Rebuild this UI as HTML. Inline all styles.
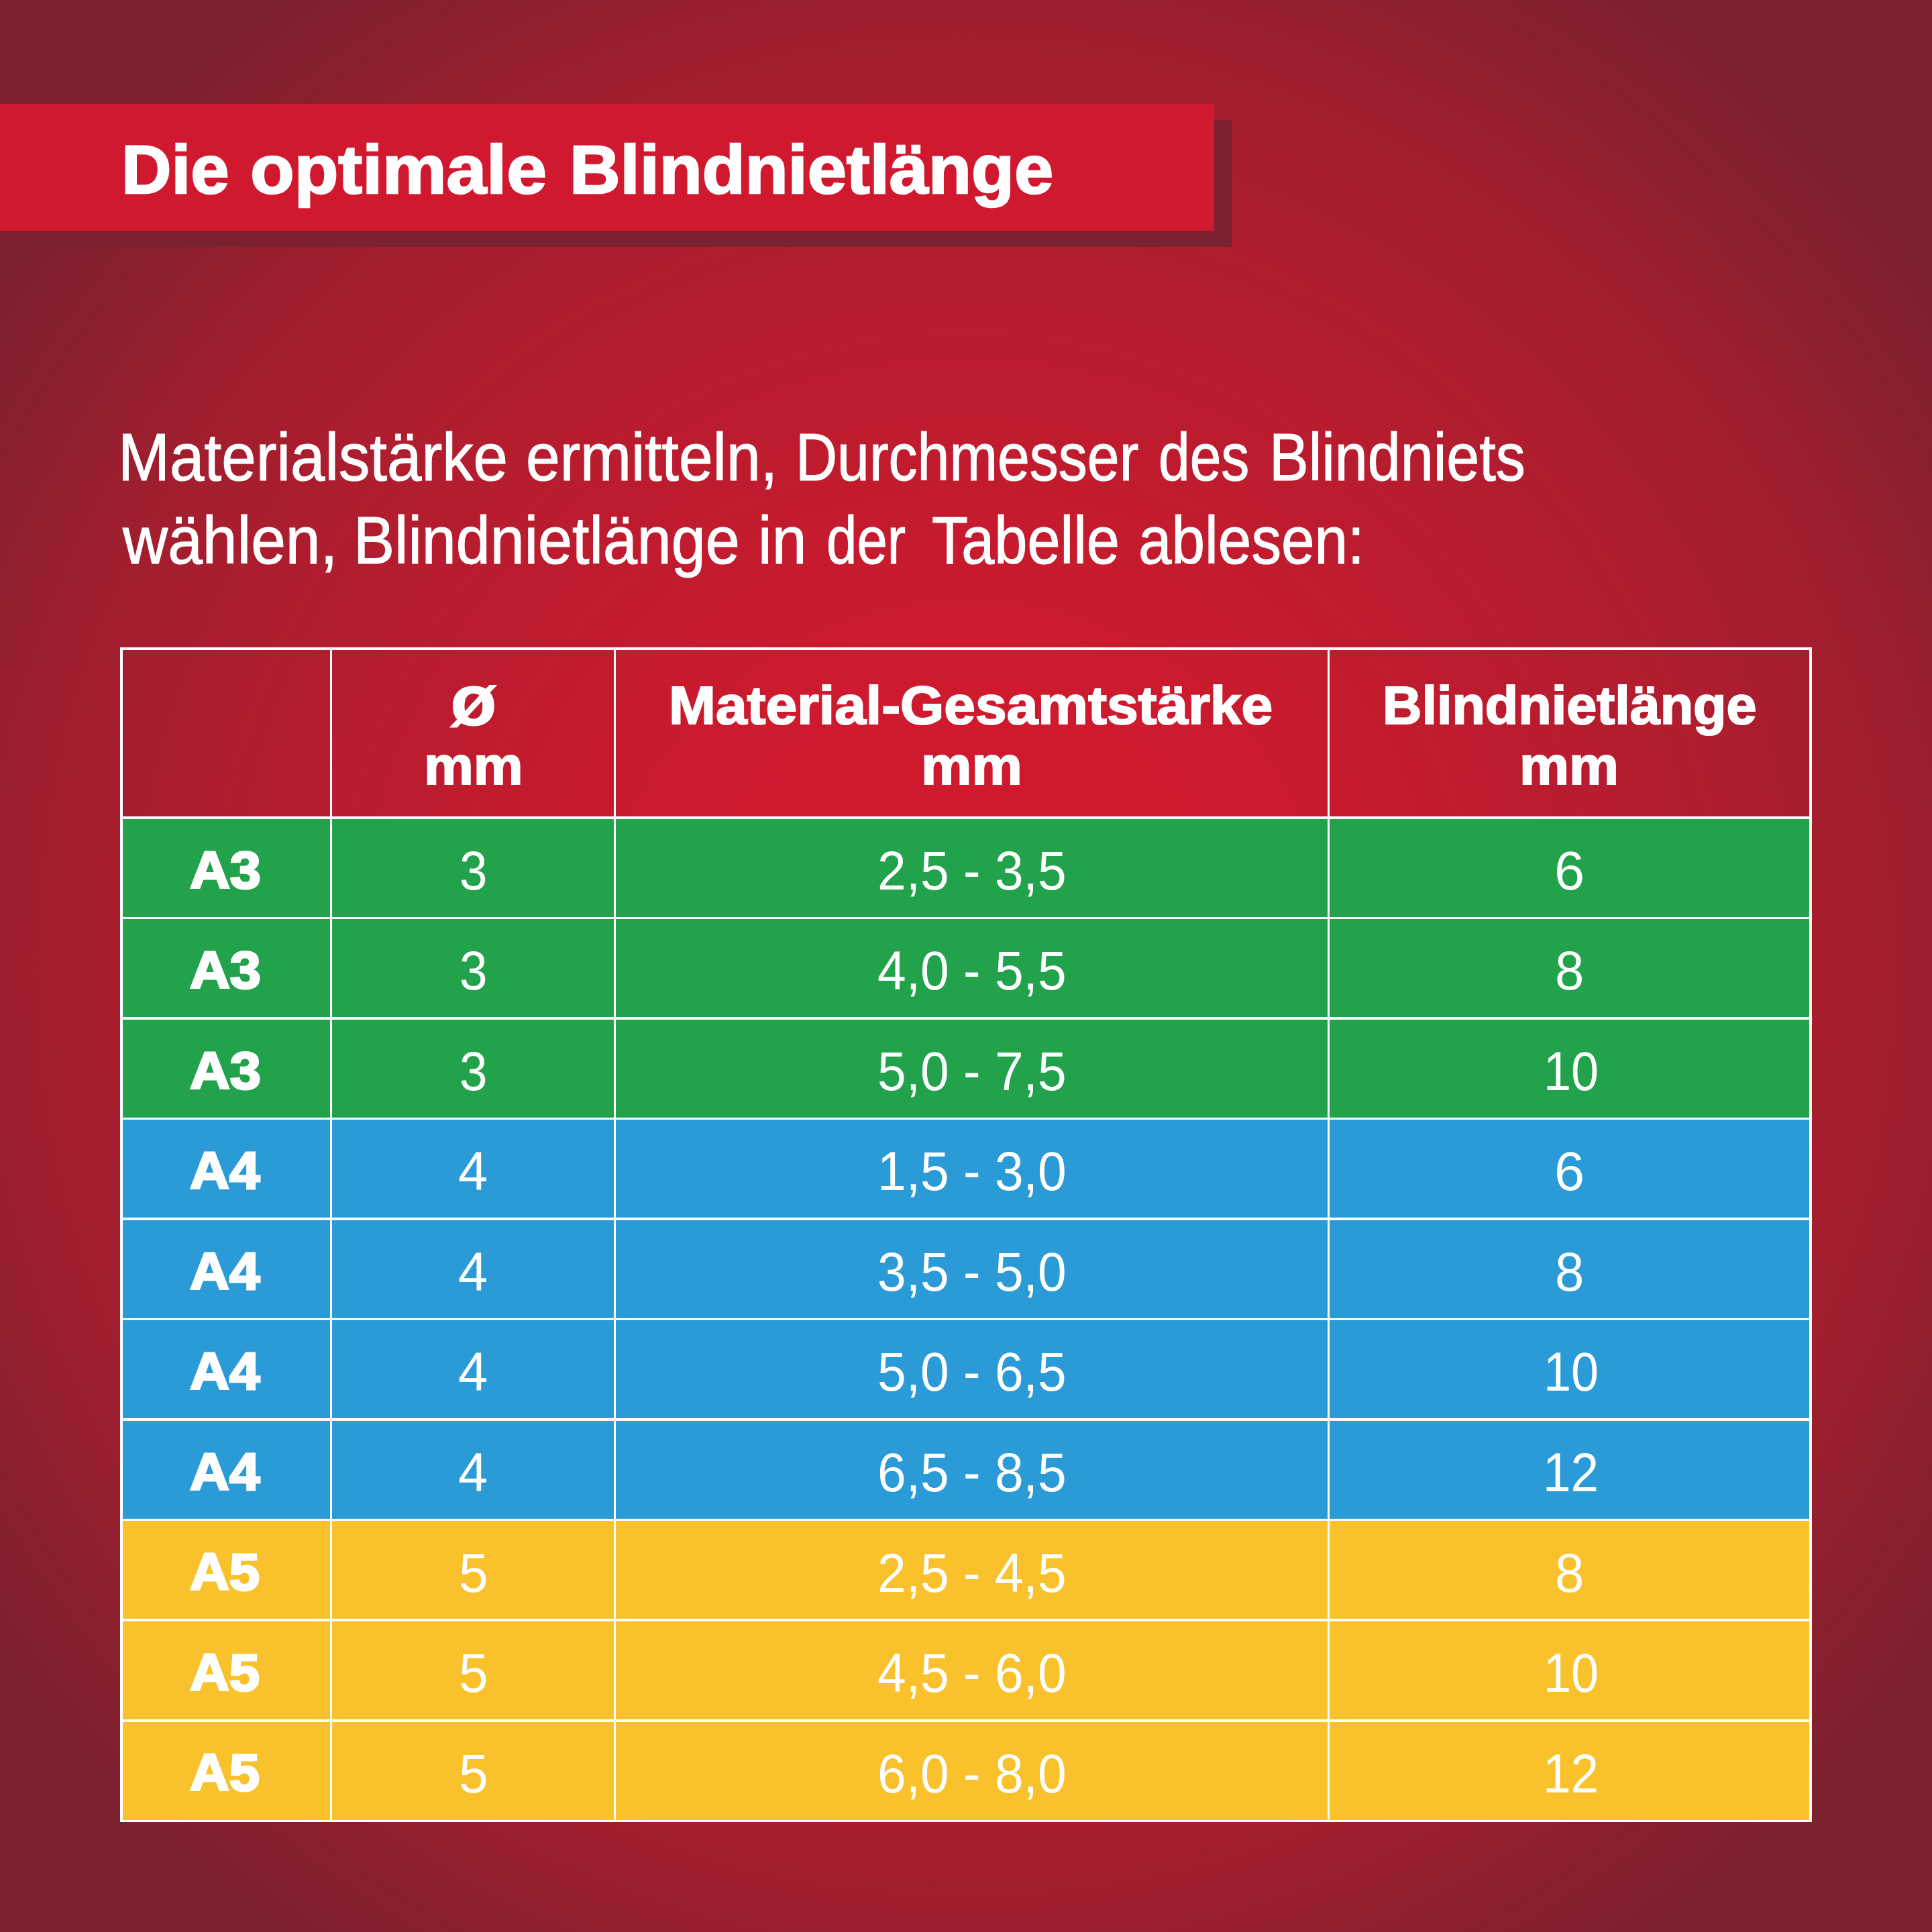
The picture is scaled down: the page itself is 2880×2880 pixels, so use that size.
<!DOCTYPE html>
<html lang="de"><head><meta charset="utf-8"><title>Die optimale Blindnietlänge</title>
<style>
html,body{margin:0;padding:0}
body{background:#7b2130}
#page{width:2880px;height:2880px;position:relative;overflow:hidden;font-family:"Liberation Sans",sans-serif;color:#fff;
background:radial-gradient(circle 2040px at 1440px 1440px, #d0192e 0px, #ce1a2e 450px, #c11b2e 754px, #b01d2f 1120px, #a21e2e 1365px, #961f2f 1500px, #89202f 1625px, #7f2130 1750px, #7b2130 1815px, #7b2130 2040px);}
.t{position:absolute;line-height:1;white-space:nowrap;transform-origin:0 0;color:#fff}
.b{font-weight:bold} .r{font-weight:normal}
h1,p{margin:0;font:inherit}
.box{position:absolute}
.ln{position:absolute;background:#fff}
</style></head><body><div id="page">

<div class="box" style="left:0;top:178.5px;width:1836px;height:189.5px;background:#7b2130"></div>
<div class="box" style="left:0;top:155px;width:1810.3px;height:189px;background:#d0192f"></div>
<div class="box" style="left:181px;top:1219.0px;width:2518px;height:150.0px;background:#21a24b"></div>
<div class="box" style="left:181px;top:1368.5px;width:2518px;height:150.0px;background:#21a24b"></div>
<div class="box" style="left:181px;top:1518.1px;width:2518px;height:150.0px;background:#21a24b"></div>
<div class="box" style="left:181px;top:1667.6px;width:2518px;height:150.0px;background:#2b9bd8"></div>
<div class="box" style="left:181px;top:1817.1px;width:2518px;height:150.0px;background:#2b9bd8"></div>
<div class="box" style="left:181px;top:1966.7px;width:2518px;height:150.0px;background:#2b9bd8"></div>
<div class="box" style="left:181px;top:2116.2px;width:2518px;height:150.0px;background:#2b9bd8"></div>
<div class="box" style="left:181px;top:2265.7px;width:2518px;height:150.0px;background:#f9c12b"></div>
<div class="box" style="left:181px;top:2415.2px;width:2518px;height:150.0px;background:#f9c12b"></div>
<div class="box" style="left:181px;top:2564.8px;width:2518px;height:150.0px;background:#f9c12b"></div>
<div class="ln" style="left:179.2px;top:965.2px;width:3.6px;height:1750.9px"></div>
<div class="ln" style="left:491.7px;top:965.2px;width:3.6px;height:1750.9px"></div>
<div class="ln" style="left:914.5px;top:965.2px;width:3.6px;height:1750.9px"></div>
<div class="ln" style="left:1978.5px;top:965.2px;width:3.6px;height:1750.9px"></div>
<div class="ln" style="left:2697.2px;top:965.2px;width:3.6px;height:1750.9px"></div>
<div class="ln" style="left:179.2px;top:965.2px;width:2521.6px;height:3.6px"></div>
<div class="ln" style="left:179.2px;top:1217.2px;width:2521.6px;height:3.6px"></div>
<div class="ln" style="left:179.2px;top:1366.7px;width:2521.6px;height:3.6px"></div>
<div class="ln" style="left:179.2px;top:1516.3px;width:2521.6px;height:3.6px"></div>
<div class="ln" style="left:179.2px;top:1665.8px;width:2521.6px;height:3.6px"></div>
<div class="ln" style="left:179.2px;top:1815.3px;width:2521.6px;height:3.6px"></div>
<div class="ln" style="left:179.2px;top:1964.9px;width:2521.6px;height:3.6px"></div>
<div class="ln" style="left:179.2px;top:2114.4px;width:2521.6px;height:3.6px"></div>
<div class="ln" style="left:179.2px;top:2263.9px;width:2521.6px;height:3.6px"></div>
<div class="ln" style="left:179.2px;top:2413.4px;width:2521.6px;height:3.6px"></div>
<div class="ln" style="left:179.2px;top:2563.0px;width:2521.6px;height:3.6px"></div>
<div class="ln" style="left:179.2px;top:2712.5px;width:2521.6px;height:3.6px"></div>
<h1>
<span class="t b" style="left:180.8px;top:202.4px;font-size:102px;transform:scaleX(1.0111);-webkit-text-stroke:2.5px #fff">Die</span>
<span class="t b" style="left:373.4px;top:202.4px;font-size:102px;transform:scaleX(1.0539);-webkit-text-stroke:2.5px #fff">optimale</span>
<span class="t b" style="left:848.7px;top:202.4px;font-size:102px;transform:scaleX(1.0262);-webkit-text-stroke:2.5px #fff">Blindnietlänge</span>
</h1>
<p>
<span class="t r" style="left:175.7px;top:630.5px;font-size:100px;transform:scaleX(0.9251);-webkit-text-stroke:1.2px #fff">Materialstärke</span>
<span class="t r" style="left:784.3px;top:630.5px;font-size:100px;transform:scaleX(0.9118);-webkit-text-stroke:1.2px #fff">ermitteln,</span>
<span class="t r" style="left:1185.6px;top:630.5px;font-size:100px;transform:scaleX(0.8599);-webkit-text-stroke:1.2px #fff">Durchmesser</span>
<span class="t r" style="left:1726.8px;top:630.5px;font-size:100px;transform:scaleX(0.8394);-webkit-text-stroke:1.2px #fff">des</span>
<span class="t r" style="left:1892.4px;top:630.5px;font-size:100px;transform:scaleX(0.8805);-webkit-text-stroke:1.2px #fff">Blindniets</span>
<span class="t r" style="left:183.0px;top:755.4px;font-size:100px;transform:scaleX(0.9295);-webkit-text-stroke:1.2px #fff">wählen,</span>
<span class="t r" style="left:527.4px;top:755.4px;font-size:100px;transform:scaleX(0.9164);-webkit-text-stroke:1.2px #fff">Blindnietlänge</span>
<span class="t r" style="left:1129.7px;top:755.4px;font-size:100px;transform:scaleX(0.9305);-webkit-text-stroke:1.2px #fff">in</span>
<span class="t r" style="left:1231.9px;top:755.4px;font-size:100px;transform:scaleX(0.8162);-webkit-text-stroke:1.2px #fff">der</span>
<span class="t r" style="left:1389.1px;top:755.4px;font-size:100px;transform:scaleX(0.8833);-webkit-text-stroke:1.2px #fff">Tabelle</span>
<span class="t r" style="left:1696.8px;top:755.4px;font-size:100px;transform:scaleX(0.8907);-webkit-text-stroke:1.2px #fff">ablesen:</span>
</p>
<div class="thead">
<span class="t b" style="left:671.0px;top:989.6px;font-size:108px;transform:scaleX(1.0552);-webkit-text-stroke:1px #fff">ø</span>
<span class="t b" style="left:631.5px;top:1101.7px;font-size:79px;transform:scaleX(1.0503);-webkit-text-stroke:2px #fff">mm</span>
<span class="t b" style="left:996.8px;top:1011.7px;font-size:79px;transform:scaleX(1.0622);-webkit-text-stroke:2px #fff">Material-Gesamtstärke</span>
<span class="t b" style="left:1372.8px;top:1101.7px;font-size:79px;transform:scaleX(1.0736);-webkit-text-stroke:2px #fff">mm</span>
<span class="t b" style="left:2060.7px;top:1011.6px;font-size:79px;transform:scaleX(1.0244);-webkit-text-stroke:2px #fff">Blindnietlänge</span>
<span class="t b" style="left:2265.3px;top:1101.7px;font-size:79px;transform:scaleX(1.0533);-webkit-text-stroke:2px #fff">mm</span>
</div>
<div class="trow">
<span class="t b" style="left:283.1px;top:1257.7px;font-size:78px;transform:scaleX(1.0628);-webkit-text-stroke:3px #fff">A3</span>
<span class="t r" style="left:684.7px;top:1256.8px;font-size:82px;transform:scaleX(0.9114)">3</span>
<span class="t r" style="left:1308.1px;top:1256.8px;font-size:82px;transform:scaleX(0.9360)">2,5 - 3,5</span>
<span class="t r" style="left:2316.5px;top:1256.8px;font-size:82px;transform:scaleX(0.9886)">6</span>
</div>
<div class="trow">
<span class="t b" style="left:283.1px;top:1407.2px;font-size:78px;transform:scaleX(1.0628);-webkit-text-stroke:3px #fff">A3</span>
<span class="t r" style="left:684.7px;top:1406.3px;font-size:82px;transform:scaleX(0.9114)">3</span>
<span class="t r" style="left:1308.1px;top:1406.3px;font-size:82px;transform:scaleX(0.9360)">4,0 - 5,5</span>
<span class="t r" style="left:2317.9px;top:1406.3px;font-size:82px;transform:scaleX(0.9492)">8</span>
</div>
<div class="trow">
<span class="t b" style="left:283.1px;top:1556.7px;font-size:78px;transform:scaleX(1.0628);-webkit-text-stroke:3px #fff">A3</span>
<span class="t r" style="left:684.7px;top:1555.8px;font-size:82px;transform:scaleX(0.9114)">3</span>
<span class="t r" style="left:1308.1px;top:1555.8px;font-size:82px;transform:scaleX(0.9360)">5,0 - 7,5</span>
<span class="t r" style="left:2300.8px;top:1555.8px;font-size:82px;transform:scaleX(0.9007)">10</span>
</div>
<div class="trow">
<span class="t b" style="left:283.1px;top:1706.3px;font-size:78px;transform:scaleX(1.0452);-webkit-text-stroke:3px #fff">A4</span>
<span class="t r" style="left:683.2px;top:1705.4px;font-size:82px;transform:scaleX(0.9673)">4</span>
<span class="t r" style="left:1308.1px;top:1705.4px;font-size:82px;transform:scaleX(0.9360)">1,5 - 3,0</span>
<span class="t r" style="left:2316.5px;top:1705.4px;font-size:82px;transform:scaleX(0.9886)">6</span>
</div>
<div class="trow">
<span class="t b" style="left:283.1px;top:1855.8px;font-size:78px;transform:scaleX(1.0452);-webkit-text-stroke:3px #fff">A4</span>
<span class="t r" style="left:683.2px;top:1854.9px;font-size:82px;transform:scaleX(0.9673)">4</span>
<span class="t r" style="left:1308.1px;top:1854.9px;font-size:82px;transform:scaleX(0.9360)">3,5 - 5,0</span>
<span class="t r" style="left:2317.9px;top:1854.9px;font-size:82px;transform:scaleX(0.9492)">8</span>
</div>
<div class="trow">
<span class="t b" style="left:283.1px;top:2005.3px;font-size:78px;transform:scaleX(1.0452);-webkit-text-stroke:3px #fff">A4</span>
<span class="t r" style="left:683.2px;top:2004.4px;font-size:82px;transform:scaleX(0.9673)">4</span>
<span class="t r" style="left:1308.1px;top:2004.4px;font-size:82px;transform:scaleX(0.9360)">5,0 - 6,5</span>
<span class="t r" style="left:2300.8px;top:2004.4px;font-size:82px;transform:scaleX(0.9007)">10</span>
</div>
<div class="trow">
<span class="t b" style="left:283.1px;top:2154.9px;font-size:78px;transform:scaleX(1.0452);-webkit-text-stroke:3px #fff">A4</span>
<span class="t r" style="left:683.2px;top:2154.0px;font-size:82px;transform:scaleX(0.9673)">4</span>
<span class="t r" style="left:1308.1px;top:2154.0px;font-size:82px;transform:scaleX(0.9360)">6,5 - 8,5</span>
<span class="t r" style="left:2300.1px;top:2154.0px;font-size:82px;transform:scaleX(0.9111)">12</span>
</div>
<div class="trow">
<span class="t b" style="left:283.1px;top:2304.4px;font-size:78px;transform:scaleX(1.0447);-webkit-text-stroke:3px #fff">A5</span>
<span class="t r" style="left:684.0px;top:2303.5px;font-size:82px;transform:scaleX(0.9567)">5</span>
<span class="t r" style="left:1308.1px;top:2303.5px;font-size:82px;transform:scaleX(0.9360)">2,5 - 4,5</span>
<span class="t r" style="left:2317.9px;top:2303.5px;font-size:82px;transform:scaleX(0.9492)">8</span>
</div>
<div class="trow">
<span class="t b" style="left:283.1px;top:2453.9px;font-size:78px;transform:scaleX(1.0447);-webkit-text-stroke:3px #fff">A5</span>
<span class="t r" style="left:684.0px;top:2453.0px;font-size:82px;transform:scaleX(0.9567)">5</span>
<span class="t r" style="left:1308.1px;top:2453.0px;font-size:82px;transform:scaleX(0.9360)">4,5 - 6,0</span>
<span class="t r" style="left:2300.8px;top:2453.0px;font-size:82px;transform:scaleX(0.9007)">10</span>
</div>
<div class="trow">
<span class="t b" style="left:283.1px;top:2603.4px;font-size:78px;transform:scaleX(1.0447);-webkit-text-stroke:3px #fff">A5</span>
<span class="t r" style="left:684.0px;top:2602.6px;font-size:82px;transform:scaleX(0.9567)">5</span>
<span class="t r" style="left:1308.1px;top:2602.6px;font-size:82px;transform:scaleX(0.9360)">6,0 - 8,0</span>
<span class="t r" style="left:2300.1px;top:2602.6px;font-size:82px;transform:scaleX(0.9111)">12</span>
</div>
</div></body></html>
